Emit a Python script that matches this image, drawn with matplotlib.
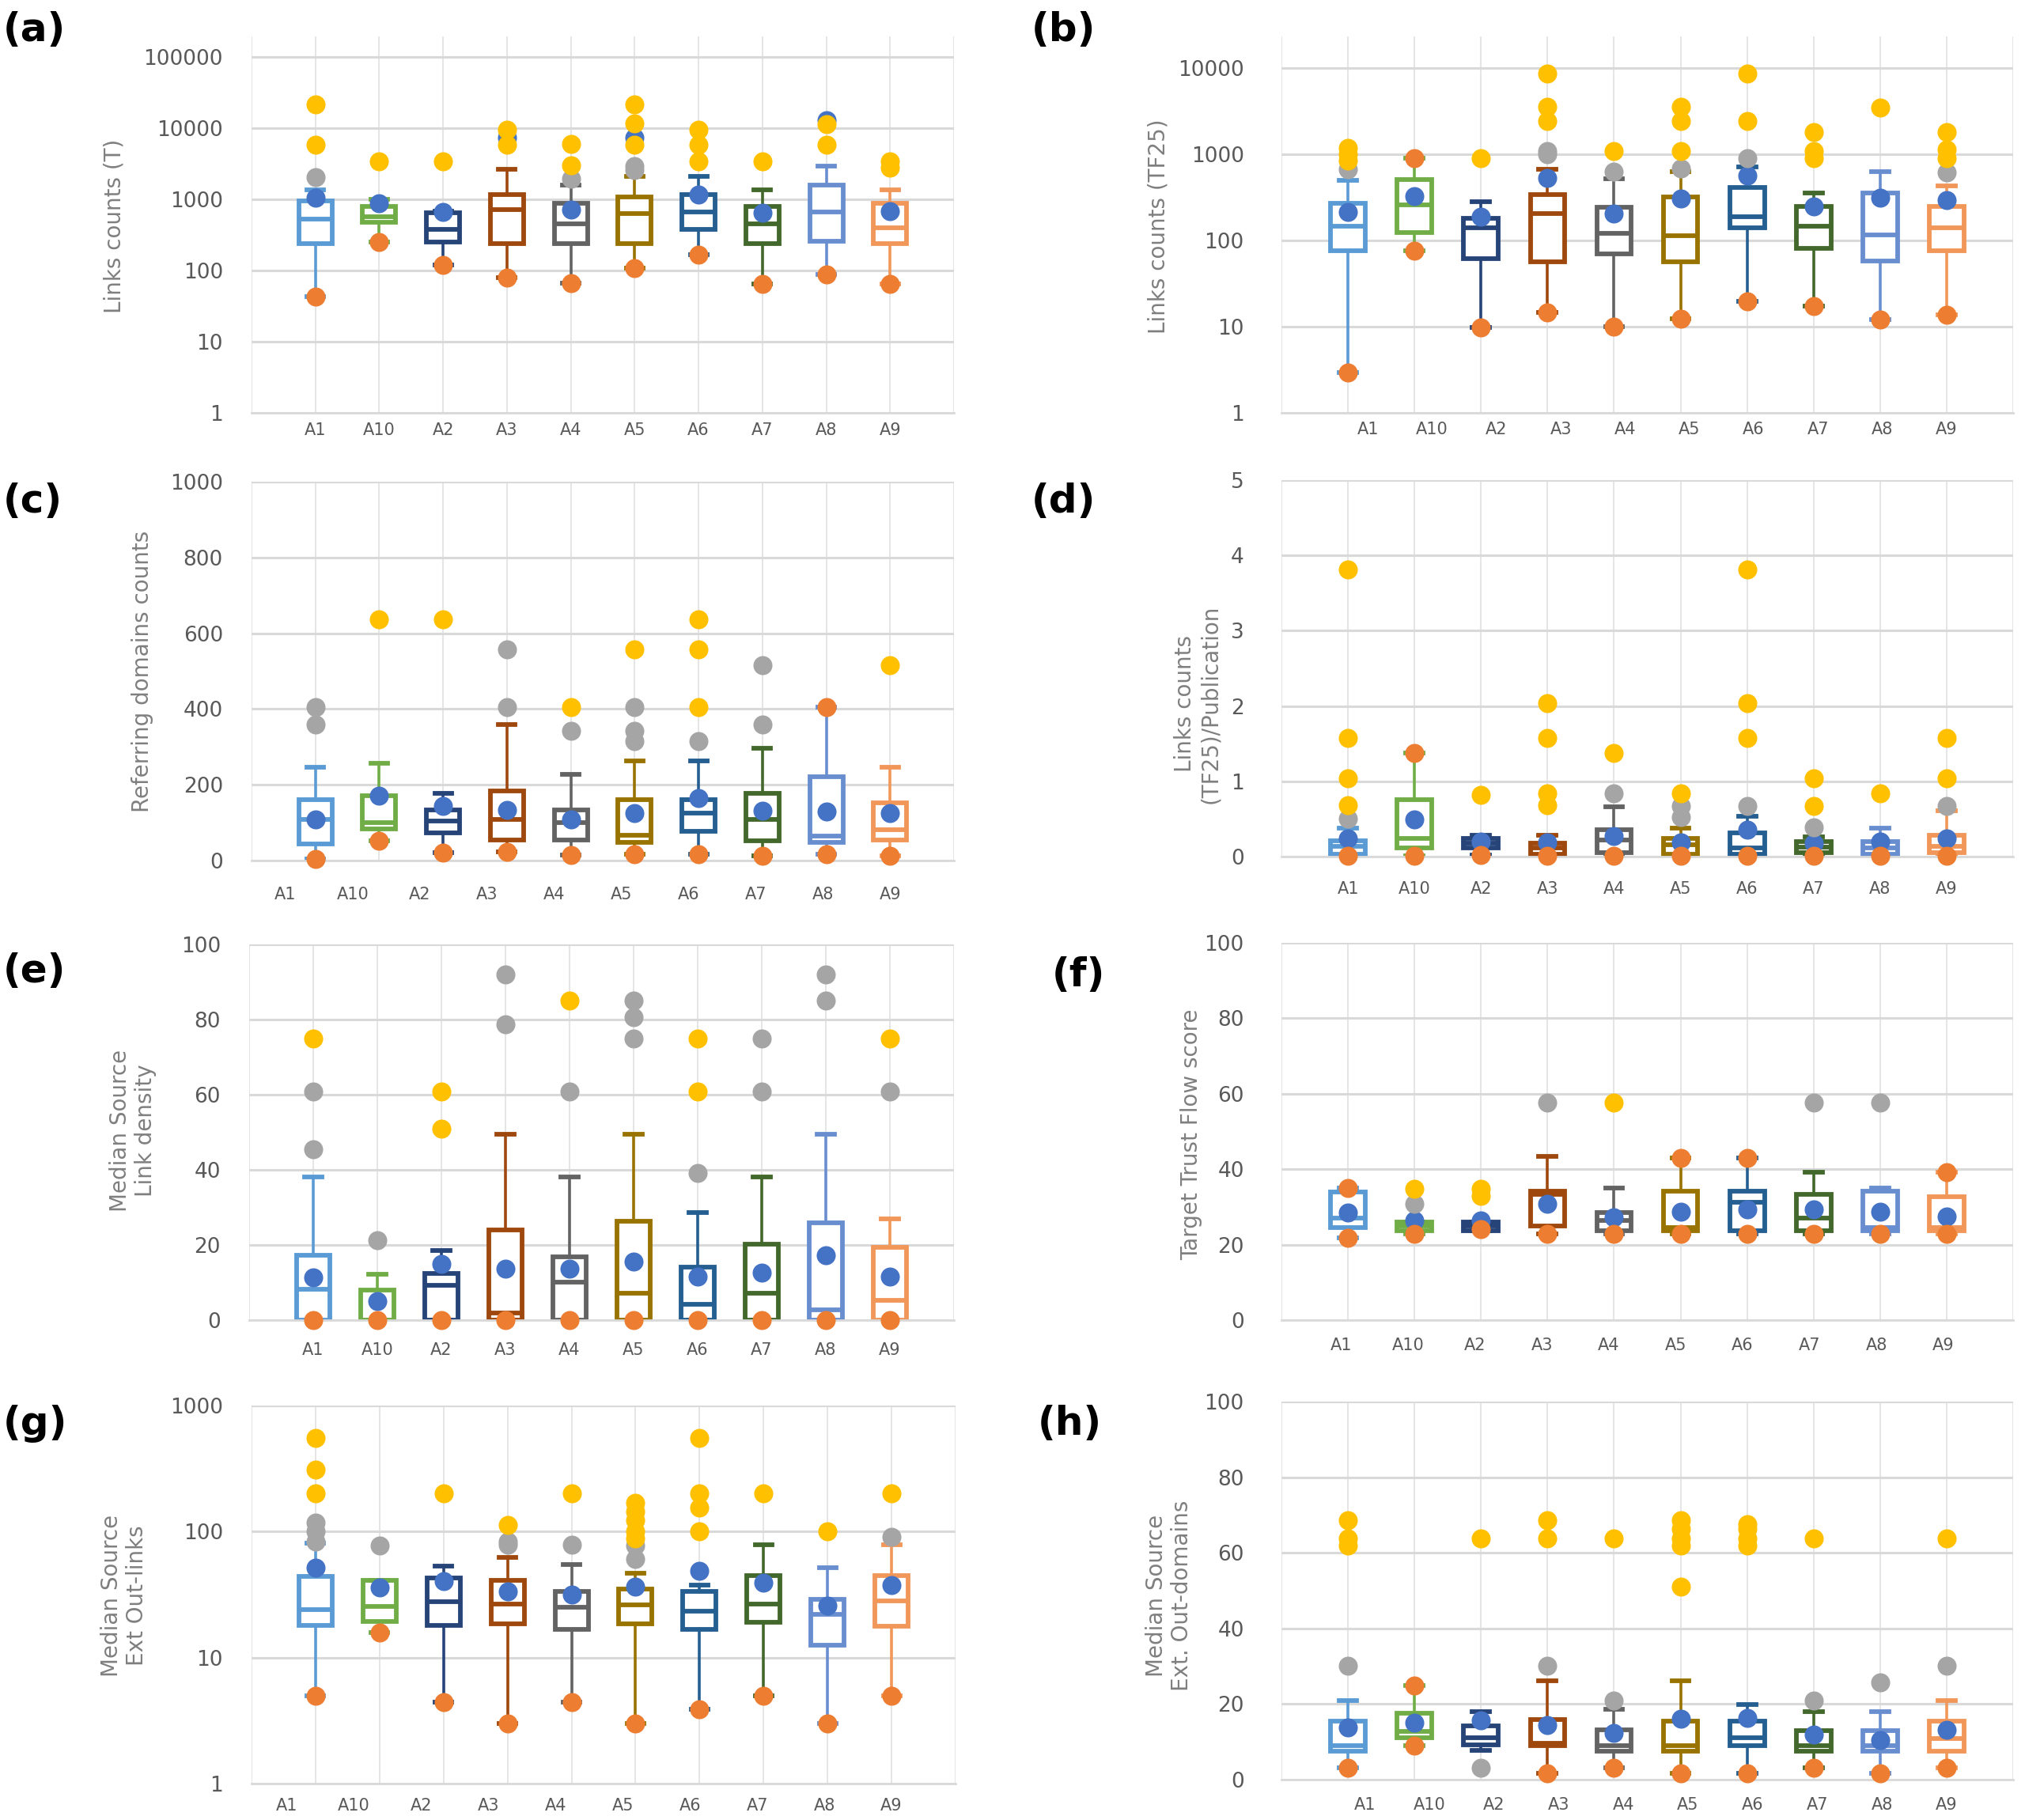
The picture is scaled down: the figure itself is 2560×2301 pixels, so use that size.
import matplotlib
matplotlib.use("Agg")
import matplotlib.pyplot as plt
import matplotlib.transforms as mtransforms

# ---- data (group order as on the x axis) ----
groups = ["A1", "A10", "A2", "A3", "A4", "A5", "A6", "A7", "A8", "A9"]
box_colors = ["#5B9BD5", "#70AD47", "#264478", "#9E480E", "#636363",
              "#997300", "#255E91", "#43682B", "#698ED0", "#F1975A"]

# box stats: (whisker low, q1, median, q3, whisker high)
a_box = [(43, 241, 533, 962, 1360), (252, 477, 575, 795, 1000), (120, 252, 378, 645, 690),
         (80, 237, 727, 1160, 2640), (67, 241, 456, 880, 1600), (109, 237, 630, 1085, 2130),
         (166, 378, 660, 1160, 2130), (64, 237, 456, 795, 1360), (87, 260, 660, 1580, 2900),
         (64, 237, 400, 880, 1360)]
a_mean = [1050, 877, 660, 7400, 727, 7400, 1160, 645, 13100, 690]
a_orange = [[43], [252], [120], [80], [67], [109], [166], [64], [87], [64]]
a_gray = [[2040], [], [], [], [1940], [2950, 2600], [], [], [], []]
a_yellow = [[21400, 5850], [3400], [3400], [9500, 5850], [5950, 3000],
            [21400, 11700, 5850], [9500, 5850, 3400], [3400], [11400, 5850], [3400, 2800]]

b_box = [(2.95, 76, 146, 271, 500), (77, 125, 257, 514, 900), (9.8, 62, 140, 180, 282),
         (14.7, 56.5, 204, 342, 670), (10, 70, 122, 245, 520), (12.3, 56.5, 113, 324, 630),
         (19.6, 140, 191, 414, 710), (17.5, 82, 146, 250, 360), (12.1, 58, 116, 360, 630),
         (13.8, 77, 140, 250, 430)]
b_mean = [215, 325, 191, 530, 207, 309, 565, 250, 317, 292]
b_orange = [[2.95], [900, 77], [9.8], [14.7], [10], [12.3], [19.6], [17.5], [12.1], [13.8]]
b_gray = [[670], [], [], [1000, 1100], [635], [685], [900], [], [], [620]]
b_yellow = [[1200, 1000, 850], [], [900], [8600, 3600, 2450], [1090], [3600, 2450, 1090],
            [8600, 2450], [1800, 1090, 900], [3520], [1800, 1130, 900]]

c_box = [(4, 43, 108, 160, 246), (53, 84, 100, 172, 257), (20, 74, 105, 134, 178),
         (22, 55, 108, 183, 359), (14, 55, 101, 133, 228), (16, 48, 66, 160, 264),
         (16, 78, 126, 160, 264), (12, 53, 108, 178, 296), (16, 48, 64, 222, 405),
         (12, 55, 82, 152, 246)]
c_mean = [108, 172, 144, 134, 108, 125, 164, 131, 129, 125]
c_orange = [[4], [53], [20], [22], [14], [16], [16], [12], [405, 16], [12]]
c_gray = [[405, 360], [], [], [558, 405], [342], [405, 342, 316], [316], [516, 360], [], []]
c_yellow = [[], [636], [636], [], [405], [558], [636, 558, 405], [], [], [515]]

d_box = [(0.01, 0.03, 0.14, 0.21, 0.375), (0.01, 0.116, 0.24, 0.76, 1.38),
         (0.02, 0.116, 0.18, 0.24, 0.286), (0.01, 0.03, 0.12, 0.18, 0.28),
         (0.01, 0.05, 0.22, 0.356, 0.66), (0.01, 0.03, 0.16, 0.24, 0.375),
         (0.01, 0.03, 0.12, 0.31, 0.54), (0.01, 0.05, 0.13, 0.2, 0.26),
         (0.01, 0.03, 0.12, 0.2, 0.375), (0.01, 0.05, 0.14, 0.286, 0.61)]
d_mean = [0.24, 0.49, 0.2, 0.19, 0.27, 0.19, 0.36, 0.18, 0.2, 0.24]
d_orange = [[0.01], [1.38, 0.01], [0.02], [0.01], [0.01], [0.01], [0.01], [0.01], [0.01], [0.01]]
d_gray = [[0.5], [], [], [], [0.84], [0.67, 0.53], [0.67], [0.39], [], [0.67]]
d_yellow = [[3.81, 1.575, 1.045, 0.685], [], [0.82], [2.04, 1.575, 0.84, 0.685], [1.38], [0.84],
            [3.81, 2.04, 1.575], [1.045, 0.67], [0.84], [1.575, 1.045]]

e_box = [(0, 0, 8.3, 17.3, 38.2), (0, 0, 0, 8.1, 12.2), (0, 0, 9.2, 12.4, 18.5),
         (0, 0, 2, 24, 49.4), (0, 0, 10.2, 16.8, 38.2), (0, 0, 7.1, 26.4, 49.4),
         (0, 0, 4.2, 14.2, 28.7), (0, 0, 7.1, 20.2, 38.2), (0, 0, 2.8, 26, 49.4),
         (0, 0, 5.3, 19.3, 27)]
e_mean = [11.3, 5, 15, 13.6, 13.6, 15.5, 11.6, 12.6, 17.3, 11.6]
e_orange = [[0], [0], [0], [0], [0], [0], [0], [0], [0], [0]]
e_gray = [[60.9, 45.4], [21.3], [], [91.9, 78.7], [60.9], [85, 80.7, 75], [39.1],
          [75, 60.9], [91.9, 85], [60.9]]
e_yellow = [[75], [], [60.9, 51], [], [85], [], [75, 60.9], [], [], [75]]

f_box = [(21.7, 24.5, 27.1, 33.9, 35.1), (22.9, 23.7, 24.9, 26, 26), (23.7, 23.7, 24.9, 26, 26),
         (22.9, 24.9, 33.4, 34.2, 43.4), (22.9, 23.7, 26.4, 28.6, 35.1), (22.9, 23.7, 24.5, 34.2, 43),
         (22.9, 23.7, 31.2, 34.2, 43), (22.9, 23.7, 27.1, 33.4, 39.2), (22.9, 23.7, 24.5, 34.2, 35.1),
         (22.9, 23.7, 24.5, 32.8, 39.2)]
f_mean = [28.6, 26.4, 26.4, 30.8, 27.2, 28.8, 29.4, 29.4, 28.8, 27.4]
f_orange = [[35.1, 21.7], [22.9], [24.1], [22.9], [22.9], [43, 22.9], [43, 22.9], [22.9], [22.9], [39.2, 22.9]]
f_gray = [[], [30.8], [], [57.6], [], [], [], [57.6], [57.6], []]
f_yellow = [[], [34.7], [34.7, 33], [], [57.6], [], [], [], [], []]

g_box = [(5, 18.1, 24, 44, 81), (15.9, 19.3, 25.4, 41, 41), (4.4, 18.1, 27.7, 43, 53),
         (3, 18.6, 26.7, 41, 62.8), (4.4, 16.8, 25, 33.4, 55), (3, 18.6, 26.3, 35.2, 46.5),
         (3.9, 16.8, 23.5, 33.4, 37.8), (5, 19.1, 26.7, 44.9, 79), (3, 12.6, 22, 29.2, 52),
         (5, 17.7, 28.1, 44.9, 79)]
g_mean = [51.5, 35.9, 40.4, 33.4, 31.7, 36.5, 49, 39.4, 25.8, 37.8]
g_orange = [[5], [15.9], [4.4], [3], [4.4], [3], [3.9], [5], [3], [5]]
g_gray = [[117, 100, 83], [78], [], [83, 79], [79], [77, 61], [], [], [], [91]]
g_yellow = [[550, 312, 200], [], [200], [112], [200], [168, 144, 123, 100, 88],
            [550, 200, 155, 100], [200], [100], [200]]

h_box = [(3.2, 7.5, 9, 15.5, 20.9), (8.9, 11.1, 12.8, 17.5, 25), (7.7, 9.2, 11, 14.3, 17.9),
         (1.7, 8.9, 9.6, 16, 26.2), (3.2, 7.5, 8.9, 13.2, 18.6), (1.7, 7.5, 9, 15.5, 26.2),
         (1.7, 8.9, 11.1, 15.5, 19.8), (3.2, 7.5, 8.9, 13, 17.9), (1.7, 7.5, 8.9, 13, 17.9),
         (3.2, 7.5, 10.8, 15.5, 21)]
h_mean = [13.8, 15, 15.6, 14.5, 12.3, 16.2, 16.4, 11.9, 10.4, 13.2]
h_orange = [[3.2], [25, 8.9], [], [1.7], [3.2], [1.7], [1.7], [3.2], [1.7], [3.2]]
h_gray = [[30.1], [], [3.2], [30.1], [20.9], [], [], [20.9], [25.8], [30.1]]
h_yellow = [[68.6, 63.8, 61.9], [], [63.8], [68.6, 63.8], [63.8], [68.6, 66.4, 63.8, 61.9, 51.1],
            [67.5, 66.4, 63.8, 61.9], [63.8], [], [63.8]]

MEAN_C, MIN_C, GRAY_C, YEL_C = "#4472C4", "#ED7D31", "#A5A5A5", "#FFC000"
GRID_C = "#D9D9D9"
TICK_C = "#595959"
LAB_C = "#7F7F7F"

W, H = 2560, 2301
fig = plt.figure(figsize=(W / 100, H / 100), dpi=100)
fig.patch.set_facecolor("white")

LOG_T = [1, 10, 100, 1000, 10000, 100000]


def px_rect(L, T, R, B):
    return [L / W, 1 - B / H, (R - L) / W, (B - T) / H]


def draw_panel(rect, box, mean, orange, gray, yellow, ylim, yticks, log,
               ylabel, ylab_xy, letter, letter_xy, xpad, ypad, shift):
    ax = fig.add_axes(px_rect(*rect))
    if log:
        ax.set_yscale("log")
    ax.set_xlim(0, 11)
    ax.set_ylim(*ylim)
    for s in ["top", "right", "left"]:
        ax.spines[s].set_visible(False)
    ax.spines["bottom"].set_color(GRID_C)
    ax.spines["bottom"].set_linewidth(2)
    ax.set_yticks(yticks)
    ax.set_yticklabels([f"{t:g}" if not log else str(int(t)) for t in yticks])
    ax.yaxis.set_minor_locator(matplotlib.ticker.NullLocator())
    ax.yaxis.grid(True, color=GRID_C, lw=2.2)
    ax.set_axisbelow(True)
    for k in range(12):
        ax.axvline(k, color="#E3E3E3", lw=1.3, zorder=0)

    # x labels: Excel put them slightly off the boxes in some panels
    s0, s1 = shift
    xpos = [i + 1 + s0 + (s1 - s0) * i / 9 for i in range(10)]
    ax.set_xticks(xpos)
    ax.set_xticklabels(groups)
    ax.tick_params(axis="x", length=0, pad=xpad, labelsize=15, labelcolor=TICK_C)
    ax.tick_params(axis="y", length=0, pad=ypad, labelsize=19, labelcolor=TICK_C)
    for lab in ax.get_xticklabels() + ax.get_yticklabels():
        lab.set_family(["Liberation Sans Narrow", "DejaVu Sans"])

    for i in range(10):
        lo, q1, med, q3, hi = box[i]
        st = [dict(whislo=lo, q1=q1, med=med, q3=q3, whishi=hi, fliers=[])]
        c = box_colors[i]
        ax.bxp(st, positions=[i + 1], widths=0.52, showfliers=False, patch_artist=True,
               boxprops=dict(facecolor="white", edgecolor=c, lw=4.2),
               medianprops=dict(color=c, lw=4.2),
               whiskerprops=dict(color=c, lw=2.6),
               capprops=dict(color=c, lw=4.2),
               manage_ticks=False)

    ms = 300
    ax.scatter(range(1, 11), mean, s=ms, color=MEAN_C, zorder=5, clip_on=False, lw=0)
    for vals, col, z in [(orange, MIN_C, 6), (gray, GRAY_C, 7), (yellow, YEL_C, 8)]:
        for i, vs in enumerate(vals):
            if vs:
                ax.scatter([i + 1] * len(vs), vs, s=ms, color=col, zorder=z,
                           clip_on=False, lw=0)

    fig.text(ylab_xy[0] / W, 1 - ylab_xy[1] / H, ylabel, rotation=90, ha="center",
             va="center", fontsize=20, color=LAB_C, linespacing=1.15)
    fig.text(letter_xy[0] / W, 1 - letter_xy[1] / H, letter, ha="left", va="center",
             fontsize=36, fontweight="bold", color="black")
    return ax


draw_panel((318, 46, 1206, 522), a_box, a_mean, a_orange, a_gray, a_yellow,
           (1, 10 ** 5.29), LOG_T, True, "Links counts (T)", (144, 286),
           "(a)", (4, 38), 9, 26, (0, 0))
draw_panel((1620, 46, 2545, 522), b_box, b_mean, b_orange, b_gray, b_yellow,
           (1, 10 ** 4.37), LOG_T[:5], True, "Links counts (TF25)", (1465, 286),
           "(b)", (1304, 38), 8, 34, (0.3, 0))
draw_panel((318, 609, 1206, 1088), c_box, c_mean, c_orange, c_gray, c_yellow,
           (0, 1000), [0, 200, 400, 600, 800, 1000], False, "Referring domains counts",
           (180, 849), "(c)", (4, 634), 24, 26, (-0.47, 0))
draw_panel((1620, 607, 2545, 1083), d_box, d_mean, d_orange, d_gray, d_yellow,
           (0, 5), [0, 1, 2, 3, 4, 5], False, "Links counts\n(TF25)/Publication",
           (1514, 890), "(d)", (1304, 634), 22, 34, (0, 0))
draw_panel((315, 1194, 1206, 1669), e_box, e_mean, e_orange, e_gray, e_yellow,
           (0, 100), [0, 20, 40, 60, 80, 100], False, "Median Source\nLink density",
           (168, 1429), "(e)", (4, 1228), 20, 26, (0, 0))
draw_panel((1620, 1192, 2545, 1669), f_box, f_mean, f_orange, f_gray, f_yellow,
           (0, 100), [0, 20, 40, 60, 80, 100], False, "Target Trust Flow score",
           (1506, 1434), "(f)", (1330, 1233), 16, 34, (-0.1, -0.05))
draw_panel((318, 1777, 1208, 2255), g_box, g_mean, g_orange, g_gray, g_yellow,
           (1, 1000), LOG_T[:4], True, "Median Source\nExt Out-links",
           (157, 2017), "(g)", (4, 1800), 13, 26, (-0.45, 0))
draw_panel((1620, 1772, 2545, 2250), h_box, h_mean, h_orange, h_gray, h_yellow,
           (0, 100), [0, 20, 40, 60, 80, 100], False, "Median Source\nExt. Out-domains",
           (1478, 2017), "(h)", (1312, 1800), 16, 34, (0.25, 0))

fig.savefig("out.png", dpi=100, facecolor="white")
